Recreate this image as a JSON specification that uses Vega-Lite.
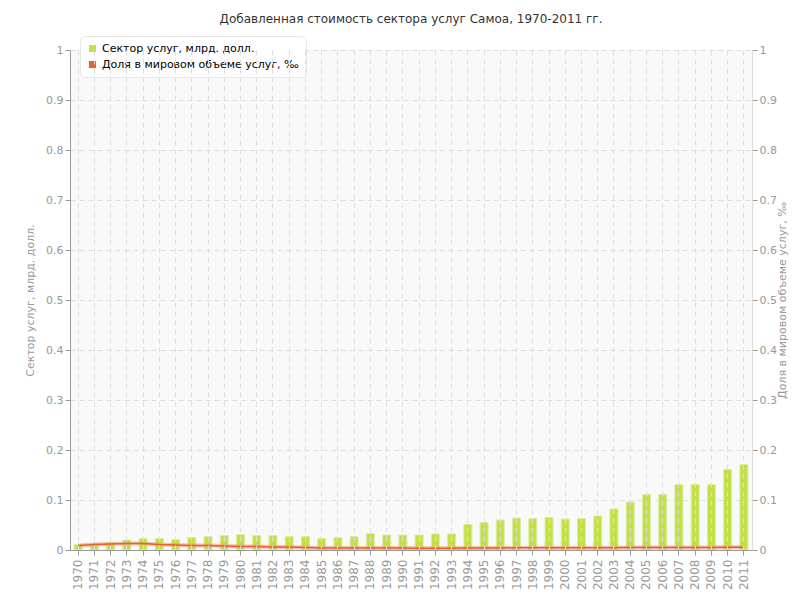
{
  "$schema": "https://vega.github.io/schema/vega-lite/v6.json",
  "width": 682,
  "height": 500,
  "autosize": {"type": "none"},
  "padding": {"top": 50, "left": 70, "right": 48, "bottom": 50},
  "background": "white",
  "title": {
    "text": "Добавленная стоимость сектора услуг Самоа, 1970-2011 гг.",
    "font": "DejaVu Sans",
    "fontSize": 12,
    "fontWeight": "normal",
    "color": "#333333",
    "offset": 10,
    "frame": "group",
    "anchor": "middle"
  },
  "config": {
    "view": {"fill": "#f9f9f9", "stroke": null},
    "axis": {
      "labelFont": "DejaVu Sans",
      "labelFontSize": 11,
      "labelColor": "#999999",
      "titleFont": "DejaVu Sans",
      "titleFontSize": 11,
      "titleFontWeight": "normal",
      "titleColor": "#999999",
      "tickColor": "#999999",
      "domainColor": "#999999",
      "tickSize": 5,
      "gridColor": "#dddddd",
      "gridDash": [5, 4]
    }
  },
  "data": {
    "values": [
      {"year": "1970", "services": 0.011, "share": 0.009},
      {"year": "1971", "services": 0.013, "share": 0.011},
      {"year": "1972", "services": 0.015, "share": 0.012},
      {"year": "1973", "services": 0.020, "share": 0.013},
      {"year": "1974", "services": 0.023, "share": 0.013},
      {"year": "1975", "services": 0.023, "share": 0.011},
      {"year": "1976", "services": 0.021, "share": 0.010},
      {"year": "1977", "services": 0.025, "share": 0.009},
      {"year": "1978", "services": 0.027, "share": 0.009},
      {"year": "1979", "services": 0.029, "share": 0.008},
      {"year": "1980", "services": 0.031, "share": 0.007},
      {"year": "1981", "services": 0.029, "share": 0.007},
      {"year": "1982", "services": 0.029, "share": 0.006},
      {"year": "1983", "services": 0.027, "share": 0.006},
      {"year": "1984", "services": 0.027, "share": 0.005},
      {"year": "1985", "services": 0.023, "share": 0.004},
      {"year": "1986", "services": 0.025, "share": 0.004},
      {"year": "1987", "services": 0.027, "share": 0.004},
      {"year": "1988", "services": 0.033, "share": 0.004},
      {"year": "1989", "services": 0.030, "share": 0.004},
      {"year": "1990", "services": 0.030, "share": 0.004},
      {"year": "1991", "services": 0.030, "share": 0.0035},
      {"year": "1992", "services": 0.032, "share": 0.0035},
      {"year": "1993", "services": 0.032, "share": 0.0035},
      {"year": "1994", "services": 0.051, "share": 0.004},
      {"year": "1995", "services": 0.055, "share": 0.004},
      {"year": "1996", "services": 0.060, "share": 0.004},
      {"year": "1997", "services": 0.064, "share": 0.0045},
      {"year": "1998", "services": 0.063, "share": 0.0045},
      {"year": "1999", "services": 0.065, "share": 0.0045},
      {"year": "2000", "services": 0.062, "share": 0.0045},
      {"year": "2001", "services": 0.063, "share": 0.0045},
      {"year": "2002", "services": 0.068, "share": 0.0045},
      {"year": "2003", "services": 0.082, "share": 0.0045},
      {"year": "2004", "services": 0.096, "share": 0.005},
      {"year": "2005", "services": 0.111, "share": 0.005},
      {"year": "2006", "services": 0.111, "share": 0.005},
      {"year": "2007", "services": 0.131, "share": 0.005},
      {"year": "2008", "services": 0.131, "share": 0.005},
      {"year": "2009", "services": 0.131, "share": 0.005},
      {"year": "2010", "services": 0.161, "share": 0.0055},
      {"year": "2011", "services": 0.171, "share": 0.0055}
    ]
  },
  "encoding": {
    "x": {
      "field": "year",
      "type": "ordinal",
      "scale": {"paddingInner": 0, "paddingOuter": 0},
      "axis": {
        "title": null,
        "labelAngle": -90,
        "labelPadding": 4,
        "labelFontSize": 12,
        "grid": true,
        "bandPosition": 0.5,
        "zindex": 1
      }
    }
  },
  "layer": [
    {
      "mark": {"type": "bar", "size": 8, "stroke": "#dbee9c", "strokeWidth": 1},
      "encoding": {
        "y": {
          "field": "services",
          "type": "quantitative",
          "scale": {"domain": [0, 1], "nice": false},
          "axis": {
            "title": "Сектор услуг, млрд. долл.",
            "orient": "left",
            "values": [0, 0.1, 0.2, 0.3, 0.4, 0.5, 0.6, 0.7, 0.8, 0.9, 1],
            "format": "~g",
            "grid": true,
            "titlePadding": 10
          }
        },
        "color": {
          "datum": "Сектор услуг, млрд. долл.",
          "scale": {
            "domain": ["Сектор услуг, млрд. долл.", "Доля в мировом объеме услуг, ‰"],
            "range": ["#c3df4a", "#e8602c"]
          },
          "legend": {
            "title": null,
            "orient": "none",
            "legendX": 10,
            "legendY": -14,
            "symbolType": "square",
            "symbolSize": 50,
            "symbolStrokeWidth": 0,
            "labelFont": "DejaVu Sans",
            "labelFontSize": 11,
            "labelLimit": 400,
            "labelColor": "#000000",
            "fillColor": "white",
            "strokeColor": "#e6e6e6",
            "cornerRadius": 5,
            "padding": 7,
            "rowPadding": 4
          }
        }
      }
    },
    {
      "mark": {"type": "line", "color": "#f0a080", "strokeWidth": 4, "opacity": 0.6},
      "encoding": {
        "y": {
          "field": "share",
          "type": "quantitative",
          "scale": {"domain": [0, 1], "nice": false},
          "axis": null
        }
      }
    },
    {
      "mark": {"type": "line", "strokeWidth": 1.5},
      "encoding": {
        "y": {
          "field": "share",
          "type": "quantitative",
          "scale": {"domain": [0, 1], "nice": false},
          "axis": {
            "title": "Доля в мировом объеме услуг, ‰",
            "orient": "right",
            "values": [0, 0.1, 0.2, 0.3, 0.4, 0.5, 0.6, 0.7, 0.8, 0.9, 1],
            "format": "~g",
            "grid": false,
            "domainColor": "#dddddd",
            "titleAngle": 270,
            "titlePadding": 11
          }
        },
        "color": {"datum": "Доля в мировом объеме услуг, ‰"}
      }
    }
  ],
  "resolve": {"scale": {"y": "independent"}, "axis": {"y": "independent"}}
}
